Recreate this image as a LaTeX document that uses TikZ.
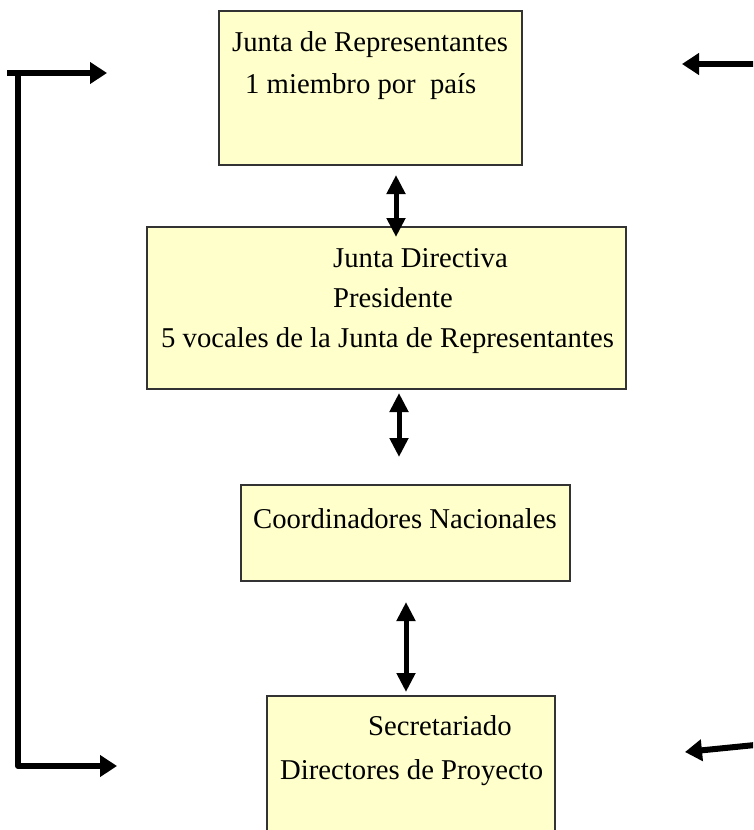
\documentclass[tikz,border=0pt]{standalone}
\usepackage{fontspec}
\setmainfont{Liberation Serif}
\usepackage{xcolor}
\usepackage{tikz}
\usetikzlibrary{arrows.meta}
\definecolor{amarillo}{HTML}{FFFFCC}

\begin{document}
\begin{tikzpicture}[x=1pt, y=-1pt,
        caja/.style={draw=black!80, line width=1.8pt, fill=amarillo, rectangle},
        texto/.style={anchor=base west, inner sep=0pt, font=\fontsize{28.7}{42}\selectfont},
        flecha/.style={line width=6pt, line join=round, -{Triangle[length=17pt,width=21pt]}},
        doble/.style={line width=5pt, {Triangle[length=19pt,width=18pt]}-{Triangle[length=19pt,width=18pt]}}]
                \useasboundingbox (0,0) rectangle (753,830);
                \clip (0,0) rectangle (753,830);

                \node[caja, minimum width=303pt, minimum height=154pt] (repres) at (370.5,88) {};
                \node[texto] (repres1) at (232,51) {Junta de Representantes};
                \node[texto] (repres2) at (245,93) {1 miembro por~ país};

                \node[caja, minimum width=479pt, minimum height=162pt] (directiva) at (386.5,308) {};
                \node[texto] (directiva1) at (333,267) {Junta Directiva};
                \node[texto] (directiva2) at (333,307) {Presidente};
                \node[texto] (directiva3) at (161,347) {5 vocales de la Junta de Representantes};

                \node[caja, minimum width=329pt, minimum height=96pt] (coord) at (405.5,533) {};
                \node[texto] (coord1) at (253,528) {Coordinadores Nacionales};

                \node[caja, minimum width=288pt, minimum height=164pt] (secret) at (411,778) {};
                \node[texto] (secret1) at (368,735) {Secretariado};
                \node[texto] (secret2) at (280,779) {Directores de Proyecto};

                \coordinate (d1a) at (396,175);
                \coordinate (d1b) at (396,237);
                \coordinate (d2a) at (399,393);
                \coordinate (d2b) at (399,457);
                \coordinate (d3a) at (406,602);
                \coordinate (d3b) at (406,692);
                \draw[doble] (d1a) -- (d1b);
                \draw[doble] (d2a) -- (d2b);
                \draw[doble] (d3a) -- (d3b);

                \coordinate (izqA) at (7,73);
                \coordinate (entraA) at (107,73);
                \coordinate (izqB) at (18,73);
                \coordinate (izqC) at (18,766);
                \coordinate (entraB) at (117,766);
                \draw[flecha] (izqA) -- (entraA);
                \draw[flecha] (izqB) -- (izqC) -- (entraB);

                \coordinate (derA) at (755,64);
                \coordinate (llegaA) at (682,64);
                \coordinate (derB) at (755,745);
                \coordinate (llegaB) at (685,752);
                \draw[flecha] (derA) -- (llegaA);
                \draw[flecha] (derB) -- (llegaB);
            \end{tikzpicture}
\end{document}
